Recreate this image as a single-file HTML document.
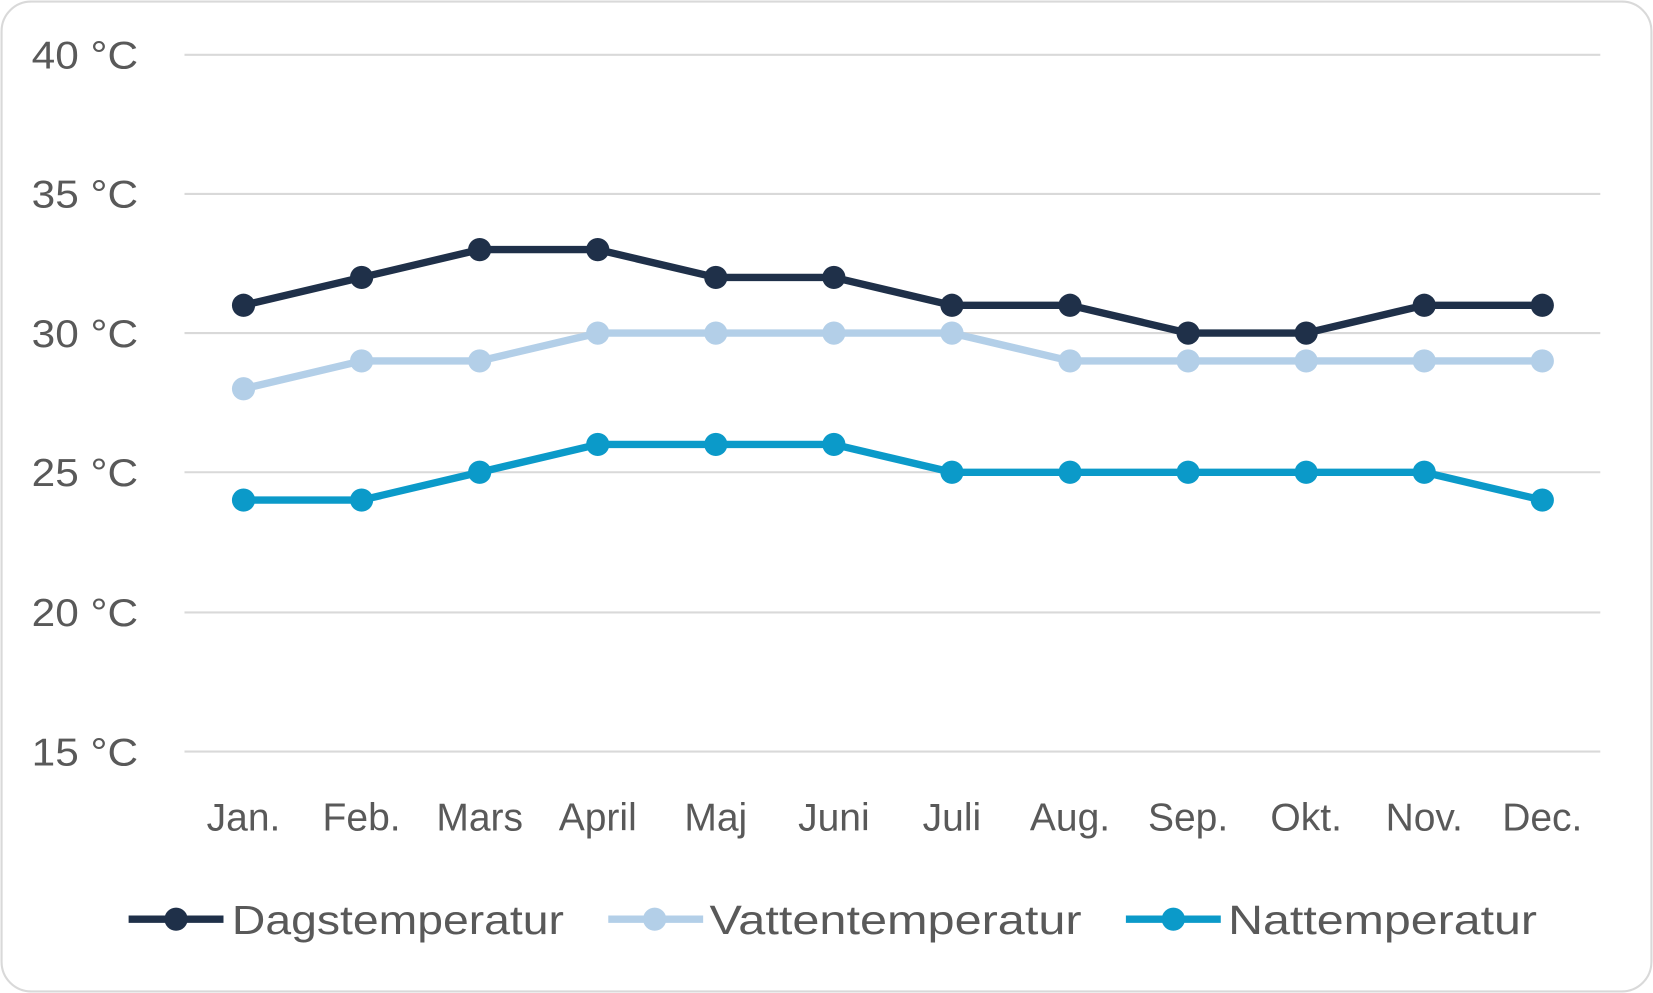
<!DOCTYPE html>
<html><head><meta charset="utf-8"><style>
html,body{margin:0;padding:0;background:#fff;}
svg{display:block;}
text{font-family:"Liberation Sans",sans-serif;fill:#595959;}
</style></head><body>
<svg width="1653" height="993" viewBox="0 0 1568 942" preserveAspectRatio="none" xmlns="http://www.w3.org/2000/svg">
<defs>
<marker id="md" viewBox="-12 -12 24 24" markerWidth="24" markerHeight="24" markerUnits="userSpaceOnUse" refX="0" refY="0"><circle r="11" fill="#1f3049"/></marker>
<marker id="mv" viewBox="-12 -12 24 24" markerWidth="24" markerHeight="24" markerUnits="userSpaceOnUse" refX="0" refY="0"><circle r="11" fill="#b3cfe8"/></marker>
<marker id="mn" viewBox="-12 -12 24 24" markerWidth="24" markerHeight="24" markerUnits="userSpaceOnUse" refX="0" refY="0"><circle r="11" fill="#0b9ac9"/></marker>
</defs>
<rect x="1.5" y="1.5" width="1565" height="939" rx="28" fill="#fff" stroke="#d9d9d9" stroke-width="2"/>
<g stroke="#d9d9d9" stroke-width="2">
<line x1="175" x2="1518" y1="52" y2="52"/>
<line x1="175" x2="1518" y1="184" y2="184"/>
<line x1="175" x2="1518" y1="316" y2="316"/>
<line x1="175" x2="1518" y1="448" y2="448"/>
<line x1="175" x2="1518" y1="581" y2="581"/>
<line x1="175" x2="1518" y1="713" y2="713"/>
</g>
<g font-size="37">
<text x="30" y="65" textLength="101" lengthAdjust="spacingAndGlyphs">40 °C</text>
<text x="30" y="197" textLength="101" lengthAdjust="spacingAndGlyphs">35 °C</text>
<text x="30" y="329" textLength="101" lengthAdjust="spacingAndGlyphs">30 °C</text>
<text x="30" y="461" textLength="101" lengthAdjust="spacingAndGlyphs">25 °C</text>
<text x="30" y="594" textLength="101" lengthAdjust="spacingAndGlyphs">20 °C</text>
<text x="30" y="726" textLength="101" lengthAdjust="spacingAndGlyphs">15 °C</text>
</g>
<g font-size="37" text-anchor="middle">
<text x="231" y="788">Jan.</text><text x="343" y="788">Feb.</text><text x="455" y="788">Mars</text>
<text x="567" y="788">April</text><text x="679" y="788">Maj</text><text x="791" y="788">Juni</text>
<text x="903" y="788">Juli</text><text x="1015" y="788">Aug.</text><text x="1127" y="788">Sep.</text>
<text x="1239" y="788">Okt.</text><text x="1351" y="788">Nov.</text><text x="1463" y="788">Dec.</text>
</g>
<g fill="none" stroke-width="7" stroke-linejoin="round">
<polyline stroke="#b3cfe8" marker-start="url(#mv)" marker-mid="url(#mv)" marker-end="url(#mv)" points="231,368.8 343,342.4 455,342.4 567,316 679,316 791,316 903,316 1015,342.4 1127,342.4 1239,342.4 1351,342.4 1463,342.4"/>
<polyline stroke="#0b9ac9" marker-start="url(#mn)" marker-mid="url(#mn)" marker-end="url(#mn)" points="231,474.4 343,474.4 455,448 567,421.6 679,421.6 791,421.6 903,448 1015,448 1127,448 1239,448 1351,448 1463,474.4"/>
<polyline stroke="#1f3049" marker-start="url(#md)" marker-mid="url(#md)" marker-end="url(#md)" points="231,289.6 343,263.2 455,236.8 567,236.8 679,263.2 791,263.2 903,289.6 1015,289.6 1127,316 1239,316 1351,289.6 1463,289.6"/>
</g>
<g font-size="39">
<line x1="122" x2="212" y1="872" y2="872" stroke="#1f3049" stroke-width="7"/><circle cx="167" cy="872" r="11" fill="#1f3049"/>
<text x="220" y="886" textLength="315" lengthAdjust="spacingAndGlyphs">Dagstemperatur</text>
<line x1="577" x2="667" y1="872" y2="872" stroke="#b3cfe8" stroke-width="7"/><circle cx="621" cy="872" r="11" fill="#b3cfe8"/>
<text x="673" y="886" textLength="353" lengthAdjust="spacingAndGlyphs">Vattentemperatur</text>
<line x1="1068" x2="1158" y1="872" y2="872" stroke="#0b9ac9" stroke-width="7"/><circle cx="1113" cy="872" r="11" fill="#0b9ac9"/>
<text x="1165" y="886" textLength="293" lengthAdjust="spacingAndGlyphs">Nattemperatur</text>
</g>
</svg>
</body></html>
